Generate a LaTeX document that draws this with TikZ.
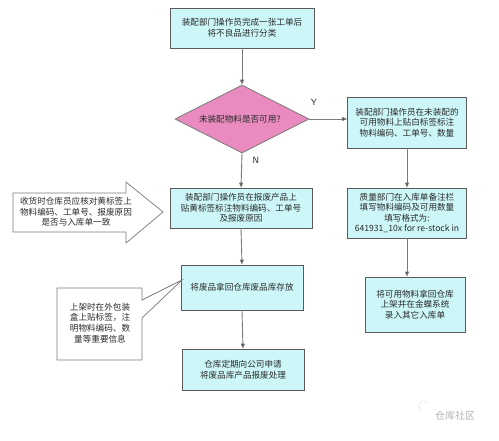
\documentclass[tikz,border=0pt]{standalone}
\usepackage{fontspec}
\newfontfamily\cjk{Noto Sans CJK SC}
\usetikzlibrary{shapes.geometric,arrows.meta}
\definecolor{boxfill}{HTML}{CCF6F8}
\definecolor{boxline}{HTML}{5A5A5A}
\definecolor{pinkfill}{HTML}{E98BBE}
\definecolor{txt}{HTML}{2A2A2A}
\definecolor{linegray}{HTML}{7A7A7A}
\tikzset{
  every node/.style={font=\cjk\fontsize{8.6}{10.6}\selectfont, text=txt},
  procbox/.style={draw=boxline, fill=boxfill, line width=0.8pt, align=center, inner sep=0pt},
  decision/.style={diamond, draw=linegray, fill=pinkfill, line width=0.8pt, inner sep=0pt, minimum width=134pt, minimum height=68pt, aspect=2},
  flow/.style={draw=linegray, line width=0.9pt, -{Triangle[length=5pt,width=4pt,fill=black]}},
  calloutshape/.style={draw=linegray, fill=white, line width=0.7pt},
  lbl/.style={font=\sffamily\fontsize{9}{10}\selectfont, text=txt}
}
\begin{document}
\begin{tikzpicture}[x=1pt,y=-1pt]
\useasboundingbox (0,0) rectangle (499,440);
\fill[white] (0,0) rectangle (499,440);

% left column
\node[procbox, minimum width=144pt, minimum height=40pt] (b1) at (242,28) {装配部门操作员完成一张工单后\\将不良品进行分类};
\node[decision] (d) at (242,119) {未装配物料是否可用？};
\node[procbox, minimum width=142pt, minimum height=40pt] (b2) at (241,208) {装配部门操作员在报废产品上\\贴黄标签标注物料编码、工单号\\及报废原因};
\node[procbox, minimum width=122pt, minimum height=45pt] (b3) at (242,287.5) {将废品拿回仓库废品库存放};
\node[procbox, minimum width=122pt, minimum height=41pt] (b4) at (243,369.5) {仓库定期向公司申请\\将废品库产品报废处理};

% right column
\node[procbox, minimum width=119pt, minimum height=51pt] (r1) at (407,122.5) {装配部门操作员在未装配的\\可用物料上贴白标签标注\\物料编码、工单号、数量};
\node[procbox, minimum width=119pt, minimum height=50pt] (r2) at (407,213) {质量部门在入库单备注栏\\填写物料编码及可用数量\\填写格式为:\\641931\_10x for re-stock in};
\node[procbox, minimum width=100pt, minimum height=55pt] (r3) at (415,304.5) {将可用物料拿回仓库\\上架并在金蝶系统\\录入其它入库单};

% connectors
\draw[flow] (b1.south) -- (d.north);
\draw[flow] (d.south) -- (b2.north);
\draw[flow] (b2.south) -- (b3.north);
\draw[flow] (b3.south) -- (b4.north);
\draw[flow] (d.east) -- (r1.west |- d.east);
\draw[flow] (r1.south) -- (r2.north);
\draw[flow] (r2.south) -- (r2.south |- r3.north);

\node[lbl] (ylab) at (314,102) {Y};
\node[lbl] (nlab) at (256,160) {N};

% block arrow callout
\draw[calloutshape] (13,193) -- (126,193) -- (126,182) -- (163,212) -- (126,243) -- (126,232) -- (13,232) -- cycle;
\node[align=center] (c1) at (76,212) {收货时仓库员应核对黄标签上\\物料编码、工单号、报废原因\\是否与入库单一致};

% speech callout
\draw[calloutshape] (57,288) -- (142,288) -- (142,300) -- (182,280) -- (142,318) -- (142,360) -- (57,360) -- cycle;
\node[align=center] (c2) at (100,323) {上架时在外包装\\盒上贴标签，注\\明物料编码、数\\量等重要信息};

% watermark
\node[text=gray!60, font=\cjk\fontsize{10}{12}\selectfont] (wm) at (455,416) {仓库社区};
\draw[gray!45, line width=0.8pt, dotted] (421,410) arc (120:330:5);
\end{tikzpicture}
\end{document}
